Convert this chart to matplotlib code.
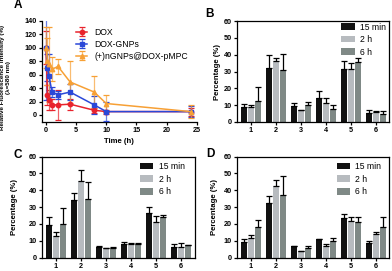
import matplotlib
matplotlib.use("Agg")
import matplotlib.pyplot as plt
import numpy as np

plt.rcParams['font.family'] = ['Liberation Sans', 'DejaVu Sans']

# ---- Panel A data ----
times = [0, 0.25, 0.5, 1, 2, 4, 8, 10, 24]
dox_mean = [100, 30, 22, 15, 15, 16, 7, 5, 5]
dox_err = [25, 15, 15, 8, 22, 8, 4, 3, 6]
gnp_mean = [100, 70, 58, 34, 30, 34, 15, 5, 5]
gnp_err = [78, 20, 32, 7, 6, 12, 13, 14, 8]
pmpc_mean = [100, 80, 75, 68, 72, 49, 34, 17, 5]
pmpc_err = [30, 35, 55, 18, 11, 31, 24, 13, 10]
series_labels = ["DOX", "DOX-GNPs", "(+)nGNPs@DOX-pMPC"]

# ---- Bar panel data ----
groups = [1, 2, 3, 4, 5, 6]
bar_labels = ["15 min", "2 h", "6 h"]
B_15 = [8.9, 32.2, 9.3, 14.5, 31.2, 5.6]
B_2h = [8.9, 36.4, 7.0, 11.5, 31.2, 6.0]
B_6h = [12.5, 30.8, 10.3, 7.6, 35.4, 4.6]
B_15e = [1.6, 7.6, 2.0, 4.2, 5.2, 1.8]
B_2he = [1.0, 1.8, 0.3, 2.8, 3.6, 0.3]
B_6he = [8.0, 9.6, 1.8, 2.3, 2.4, 1.8]

C_15 = [19.3, 34.4, 6.4, 8.2, 26.6, 6.0]
C_2h = [12.9, 45.7, 5.4, 8.2, 21.3, 6.4]
C_6h = [19.9, 34.8, 5.8, 8.3, 23.9, 7.4]
C_15e = [5.0, 3.8, 0.4, 1.3, 3.2, 1.8]
C_2he = [2.0, 6.4, 0.3, 0.5, 3.6, 2.3]
C_6he = [9.5, 9.9, 0.3, 0.4, 1.3, 0.0]

D_15 = [9.5, 32.4, 6.6, 10.7, 23.7, 8.5]
D_2h = [11.5, 42.3, 3.6, 6.8, 21.5, 13.9]
D_6h = [18.3, 37.4, 5.4, 9.9, 21.3, 18.3]
D_15e = [1.2, 4.0, 0.4, 0.2, 2.1, 1.4]
D_2he = [2.0, 3.8, 0.4, 1.0, 2.8, 1.4]
D_6he = [4.0, 11.3, 1.2, 1.4, 3.0, 6.0]

W, H = 392, 271
fig = plt.figure(figsize=(W / 100, H / 100), dpi=100)


def px_axes(l, t, r, b):
    return fig.add_axes([l / W, 1 - b / H, (r - l) / W, (b - t) / H])


TICK_FS = 5.2
LAB_FS = 5.6

# ---- Panel A ----
axA = px_axes(42, 20.7, 196.7, 121.7)
cols = ['#e8232d', '#2b48d8', '#f7a035']
marks = ['o', 's', '^']
for m, e, c, mk, lab in zip([dox_mean, gnp_mean, pmpc_mean], [dox_err, gnp_err, pmpc_err],
                            cols, marks, series_labels):
    axA.errorbar(times, m, yerr=e, color=c, ecolor=c, elinewidth=0.9, capsize=2.2,
                 capthick=0.9, marker=mk, markersize=3.2, lw=1.1, label=lab,
                 alpha=1.0, zorder=3)
for coll in axA.collections:
    coll.set_alpha(0.7)
axA.set_xlim(-0.66, 25)
axA.set_ylim(-10, 140)
axA.set_xticks([0, 5, 10, 15, 20, 25])
axA.set_yticks(range(0, 141, 20))
axA.spines['top'].set_visible(False)
axA.spines['right'].set_visible(False)
axA.set_xlabel("Time (h)", fontsize=LAB_FS, fontweight='bold', labelpad=3)
axA.set_ylabel("Relative Fluorescence Intensity (%)\n(λ=580 nm)", fontsize=4.5,
               fontweight='bold', linespacing=1.3)
axA.yaxis.set_label_coords((11.5 - 42) / 154.7, 0.44)
leg = axA.legend(loc='upper left', bbox_to_anchor=(0.22, 0.93), frameon=False,
                 fontsize=6.2, borderpad=0, borderaxespad=0, handlelength=1.3,
                 handletextpad=0.8, labelspacing=0.35)

# ---- Bar panels ----
bar_cols = ['#111111', '#b7bbbf', '#7f8986']
bw = 0.24
off = 0.28


def bar_panel(ax, vals, errs, leg_xy, ylab_x_px, left_px):
    x = np.array(groups)
    for i, (v, e, c, lab) in enumerate(zip(vals, errs, bar_cols, bar_labels)):
        pos = x + (i - 1) * off
        ax.bar(pos, v, width=bw, color=c, label=lab, zorder=2)
        ax.errorbar(pos, v, yerr=[np.zeros(len(e)), e], fmt='none', ecolor='black',
                    elinewidth=0.9, capsize=2.0, capthick=0.9, zorder=3)
    ax.set_xlim(0.45, 6.55)
    ax.set_ylim(0, 60)
    ax.set_xticks(groups)
    ax.set_yticks(range(0, 61, 10))
    ax.set_ylabel("Percentage (%)", fontsize=LAB_FS, fontweight='bold')
    ax.yaxis.set_label_coords((ylab_x_px - left_px) / 152.5, 0.5)
    ax.legend(loc='upper left', bbox_to_anchor=leg_xy, frameon=False, fontsize=6.2,
              borderpad=0, borderaxespad=0, handlelength=1.55, handleheight=0.8,
              handletextpad=0.6, labelspacing=0.42)


axB = px_axes(237, 21, 389.5, 122)
bar_panel(axB, [B_15, B_2h, B_6h], [B_15e, B_2he, B_6he], (0.685, 0.985), 221, 237)
axC = px_axes(42, 156.5, 194.5, 257.5)
bar_panel(axC, [C_15, C_2h, C_6h], [C_15e, C_2he, C_6he], (0.643, 0.945), 18.5, 42)
axD = px_axes(237, 156.5, 389.5, 257.5)
bar_panel(axD, [D_15, D_2h, D_6h], [D_15e, D_2he, D_6he], (0.654, 0.945), 218, 237)

for ax in [axA, axB, axC, axD]:
    ax.tick_params(axis='both', direction='out', length=2.3, width=0.9, pad=1.5,
                   labelsize=TICK_FS)
    for lbl in ax.get_xticklabels() + ax.get_yticklabels():
        lbl.set_fontweight('bold')
    for s in ax.spines.values():
        s.set_linewidth(0.9)

# panel letters
for letter, (xp, yp) in zip("ABCD", [(18, 4.5), (210, 14), (18, 155.5), (210, 154)]):
    fig.text(xp / W, 1 - yp / H, letter, fontsize=8.5, fontweight='bold',
             ha='center', va='center')

fig.savefig("out.png", dpi=100)
